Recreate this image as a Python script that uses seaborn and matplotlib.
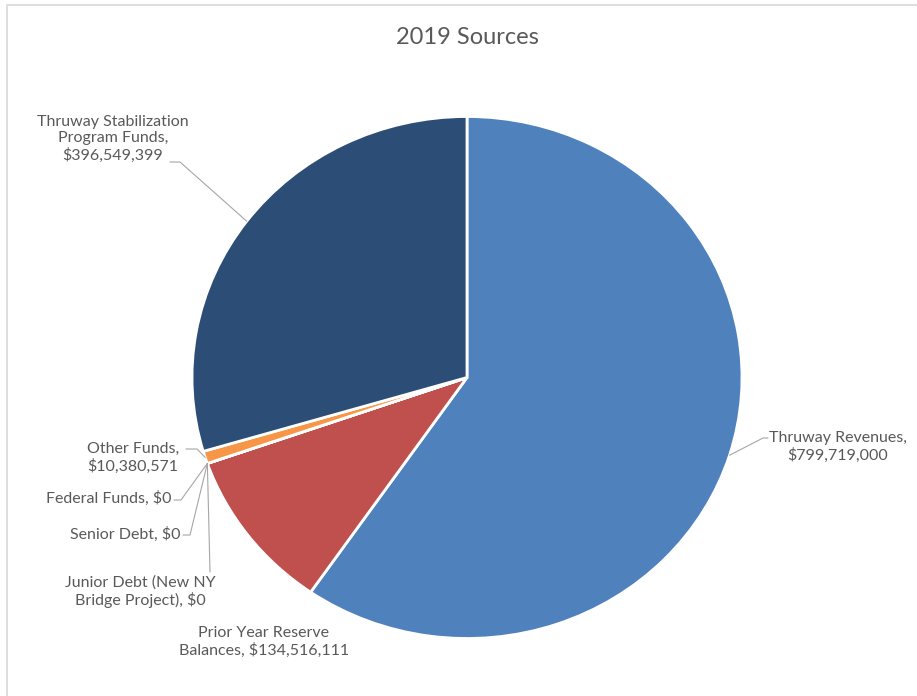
import numpy as np
import matplotlib
matplotlib.use("Agg")
import matplotlib.pyplot as plt
import seaborn as sns

sources = ['Thruway Revenues', 'Prior Year Reserve Balances',
           'Junior Debt (New NY Bridge Project)', 'Senior Debt',
           'Federal Funds', 'Other Funds',
           'Thruway Stabilization Program Funds']
amounts = [799719000, 134516111, 0, 0, 0, 10380571, 396549399]
label_text = ['Thruway Revenues,\n$799,719,000',
              'Prior Year Reserve\nBalances, $134,516,111',
              'Junior Debt (New NY\nBridge Project), $0',
              'Senior Debt, $0',
              'Federal Funds, $0',
              'Other Funds,\n$10,380,571',
              'Thruway Stabilization\nProgram Funds,\n$396,549,399']
colors = ['#4F81BD', '#C0504D', '#9BBB59', '#8064A2', '#4BACC6', '#F79646', '#2C4D75']

sns.set_theme(style="white")
plt.rcParams['font.family'] = ['Lato', 'DejaVu Sans']

W, H = 917, 696
fig = plt.figure(figsize=(W / 100, H / 100), dpi=100)

# pie is slightly squashed vertically in the original
cx, cy, rx, ry = 467, 377.5, 275, 261
pie_ax = fig.add_axes([(cx - rx) / W, (H - cy - ry) / H, 2 * rx / W, 2 * ry / H])
wedges, _ = pie_ax.pie(amounts, colors=colors, startangle=90, counterclock=False,
                       normalize=True,
                       wedgeprops={'edgecolor': 'white', 'linewidth': 2})
pie_ax.set_aspect('auto')
pie_ax.set_xlim(-1, 1)
pie_ax.set_ylim(-1, 1)
pie_ax.axis('off')

# overlay in pixel coordinates (top-left origin) for labels
ax = fig.add_axes([0, 0, 1, 1], zorder=3)
ax.set_xlim(0, W)
ax.set_ylim(H, 0)
ax.axis('off')

# label layout: text centre, alignment, elbow, line end
layout = {
    0: dict(xy=(838, 447), ha='center', elbow=(763, 438), end=(768, 438)),
    1: dict(xy=(264, 642), ha='center', elbow=None, end=None),
    2: dict(xy=(140, 592), ha='center', elbow=(210, 572), end=(210, 572)),
    3: dict(xy=(181, 534), ha='right', elbow=(190, 535), end=(183, 535)),
    4: dict(xy=(171, 498), ha='right', elbow=(181, 500), end=(174, 500)),
    5: dict(xy=(133, 458), ha='center', elbow=(197, 449), end=(186, 449)),
    6: dict(xy=(113, 139), ha='center', elbow=(180, 162), end=(170, 162)),
}

for i, w in enumerate(wedges):
    lay = layout[i]
    tx, ty = lay['xy']
    ax.text(tx, ty, label_text[i], ha=lay['ha'], va='center',
            fontsize=11.5, color='#595959', linespacing=1.2)
    if lay['elbow'] is None:
        continue
    mid = np.deg2rad((w.theta1 + w.theta2) / 2)
    ex, ey = cx + rx * np.cos(mid), cy - ry * np.sin(mid)
    bx, by = lay['elbow']
    fx, fy = lay['end']
    ax.plot([ex, bx, fx], [ey, by, fy], color='#A6A6A6', lw=0.8)

ax.text(467, 38, '2019 Sources', ha='center', va='center',
        fontsize=17, color='#595959')

# partial frame (top and left only visible in the original)
ax.plot([7, 7, W], [H, 5, 5], color='#D9D9D9', lw=1.2)

fig.savefig('out.png', dpi=100)
